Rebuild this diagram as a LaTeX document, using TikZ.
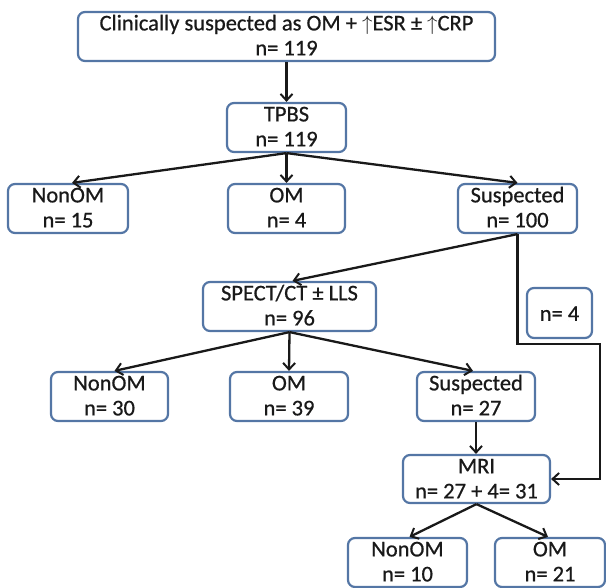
\documentclass[tikz,border=0pt]{standalone}
\usepackage{fontspec}
\setmainfont[FakeBold=0.6]{Carlito}
\usetikzlibrary{arrows.meta}
\definecolor{boxblue}{RGB}{84,118,165}
\definecolor{ink}{RGB}{25,25,25}
\begin{document}
\begin{tikzpicture}[x=1pt,y=-1pt,
  box/.style={draw=boxblue,line width=2.2pt,rounded corners=7pt,inner sep=0pt,fill=white},
  txt/.style={anchor=base,inner sep=0pt,text=ink,font=\fontsize{22.5}{26}\selectfont},
  arr/.style={draw=black!90,line width=2.3pt,-{Straight Barb[length=6.5pt,width=12pt,line width=2pt]}},
  line/.style={draw=black!90,line width=2.3pt}]
\useasboundingbox (0,0) rectangle (606,588);
\clip (0,0) rectangle (606,588);
% boxes
\node[box,minimum width=417pt,minimum height=49pt] (top) at (286.5,36.5) {};
\node[box,minimum width=119pt,minimum height=49pt] (tpbs) at (286.5,127.5) {};
\node[box,minimum width=120pt,minimum height=49pt] (r2a) at (68,208.5) {};
\node[box,minimum width=117pt,minimum height=49pt] (r2b) at (286.5,208.5) {};
\node[box,minimum width=119pt,minimum height=49pt] (r2c) at (517.5,208.5) {};
\node[box,minimum width=173pt,minimum height=49pt] (spect) at (289.5,306.5) {};
\node[box,minimum width=65pt,minimum height=50pt] (n4) at (559.5,313) {};
\node[box,minimum width=117pt,minimum height=49pt] (r3a) at (109.5,396.5) {};
\node[box,minimum width=118pt,minimum height=49pt] (r3b) at (289,396.5) {};
\node[box,minimum width=118pt,minimum height=49pt] (r3c) at (476,396.5) {};
\node[box,minimum width=147pt,minimum height=48pt] (mri) at (476.5,479) {};
\node[box,minimum width=119pt,minimum height=49pt] (r4a) at (407.5,562.5) {};
\node[box,minimum width=110pt,minimum height=49pt] (r4b) at (550,562.5) {};
% texts
\path (top.north) ++(0,19.5) node[txt] (t1) {Clinically suspected as OM + $\uparrow$ESR ± $\uparrow$CRP};
\path (top.north) ++(0,44.5) node[txt] (t2) {n= 119};
\path (tpbs.north) ++(0,19.5) node[txt] (t3) {TPBS};
\path (tpbs.north) ++(0,44.5) node[txt] (t4) {n= 119};
\path (r2a.north) ++(0,19.5) node[txt] (t5) {NonOM};
\path (r2a.north) ++(0,44.5) node[txt] (t6) {n= 15};
\path (r2b.north) ++(0,19.5) node[txt] (t7) {OM};
\path (r2b.north) ++(0,44.5) node[txt] (t8) {n= 4};
\path (r2c.north) ++(0,19.5) node[txt] (t9) {Suspected};
\path (r2c.north) ++(0,44.5) node[txt] (t10) {n= 100};
\path (spect.north) ++(0,19.5) node[txt] (t11) {SPECT/CT ± LLS};
\path (spect.north) ++(0,44.5) node[txt] (t12) {n= 96};
\path (n4.north) ++(0,34) node[txt] (t13) {n= 4};
\path (r3a.north) ++(0,19.5) node[txt] (t14) {NonOM};
\path (r3a.north) ++(0,44.5) node[txt] (t15) {n= 30};
\path (r3b.north) ++(0,19.5) node[txt] (t16) {OM};
\path (r3b.north) ++(0,44.5) node[txt] (t17) {n= 39};
\path (r3c.north) ++(0,19.5) node[txt] (t18) {Suspected};
\path (r3c.north) ++(0,44.5) node[txt] (t19) {n= 27};
\path (mri.north) ++(0,19.5) node[txt] (t20) {MRI};
\path (mri.north) ++(0,44.5) node[txt] (t21) {n= 27 + 4= 31};
\path (r4a.north) ++(0,19.5) node[txt] (t22) {NonOM};
\path (r4a.north) ++(0,44.5) node[txt] (t23) {n= 10};
\path (r4b.north) ++(0,19.5) node[txt] (t24) {OM};
\path (r4b.north) ++(0,44.5) node[txt] (t25) {n= 21};
% connectors
\coordinate (c2) at (600,344);
\draw[arr] (top.south) -- (tpbs.north);
\draw[arr] (tpbs.south) -- ([xshift=4pt]r2a.north);
\draw[arr] (tpbs.south) -- (r2b.north);
\draw[arr] (tpbs.south) -- (r2c.north);
\draw[arr] (r2c.south) -- ([xshift=3pt]spect.north);
\draw[arr] (r2c.south) |- (c2) |- (mri.east);
\draw[arr] (spect.south) -- ([xshift=5pt]r3a.north);
\draw[arr] (spect.south) -- (r3b.north);
\draw[arr] (spect.south) -- ([xshift=-3pt]r3c.north);
\draw[arr] (r3c.south) -- (r3c.south |- mri.north);
\draw[arr] (mri.south) -- ([xshift=2pt]r4a.north);
\draw[arr] (mri.south) -- ([xshift=-2pt]r4b.north);
\end{tikzpicture}
\end{document}
